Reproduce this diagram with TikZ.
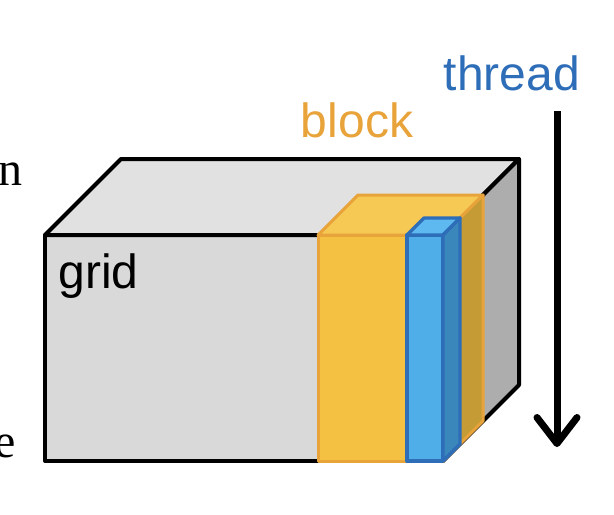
\documentclass[tikz,border=0pt]{standalone}
\usepackage{fontspec}
\setmainfont{Liberation Serif}
\setsansfont{Liberation Sans}
\usetikzlibrary{arrows.meta}
\usetikzlibrary{calc}
\definecolor{gridfront}{HTML}{D9D9D9}
\definecolor{gridtop}{HTML}{E1E1E1}
\definecolor{gridside}{HTML}{ADADAD}
\definecolor{blkfront}{HTML}{F4C143}
\definecolor{blktop}{HTML}{F6C955}
\definecolor{blkside}{HTML}{C59B35}
\definecolor{blkedge}{HTML}{E8A33A}
\definecolor{thrfront}{HTML}{4FAEE8}
\definecolor{thrtop}{HTML}{5DB9EF}
\definecolor{thrside}{HTML}{3A87BC}
\definecolor{thredge}{HTML}{2E6DB8}
% cuboid: left, top, right, bottom of the front face, depth, colour prefix, edge colour, edge width
\newcommand{\cuboid}[8]{
  \filldraw[fill=#6front, draw=#7, line width=#8, line join=round] (#1,#2) rectangle (#3,#4);
  \filldraw[fill=#6top, draw=#7, line width=#8, line join=round] (#1,#2) -- ++(#5,-#5) -- ($(#3,#2)+(#5,-#5)$) -- (#3,#2) -- cycle;
  \filldraw[fill=#6side, draw=#7, line width=#8, line join=round] (#3,#2) -- ++(#5,-#5) -- ($(#3,#4)+(#5,-#5)$) -- (#3,#4) -- cycle;}
\newcommand{\lablnode}[5]{\node[font=\sffamily\fontsize{24}{28}\selectfont, text=#4, inner sep=0pt, anchor=#5] (#1) at (#2) {#3};}
\begin{document}
\begin{tikzpicture}[x=0.5pt, y=-0.5pt]
        \useasboundingbox (0,0) rectangle (614,514);
        \cuboid{45}{235}{443}{461}{76}{grid}{black}{2pt}
        \cuboid{318}{235}{443}{461}{40}{blk}{blkedge}{1.5pt}
        \cuboid{407}{235}{443}{461}{17}{thr}{thredge}{1.7pt}

        \lablnode{gridlbl}{58,288}{grid}{black}{base west}
        \lablnode{blocklbl}{357,137}{block}{blkedge}{base}
        \lablnode{threadlbl}{512,90}{thread}{thredge}{base}
        \node[font=\fontsize{24}{28}\selectfont, inner sep=0pt, anchor=base east] (cutn) at (23,185) {n};
        \node[font=\fontsize{24}{28}\selectfont, inner sep=0pt, anchor=base east] (cute) at (16,457) {e};

        \coordinate (thrstart) at (557,111);
        \coordinate (thrend) at (557,447);
        \draw[line width=3.5pt, -{Straight Barb[round, length=13pt, width=20pt]}] (thrstart) -- (thrend);
    \end{tikzpicture}
\end{document}
